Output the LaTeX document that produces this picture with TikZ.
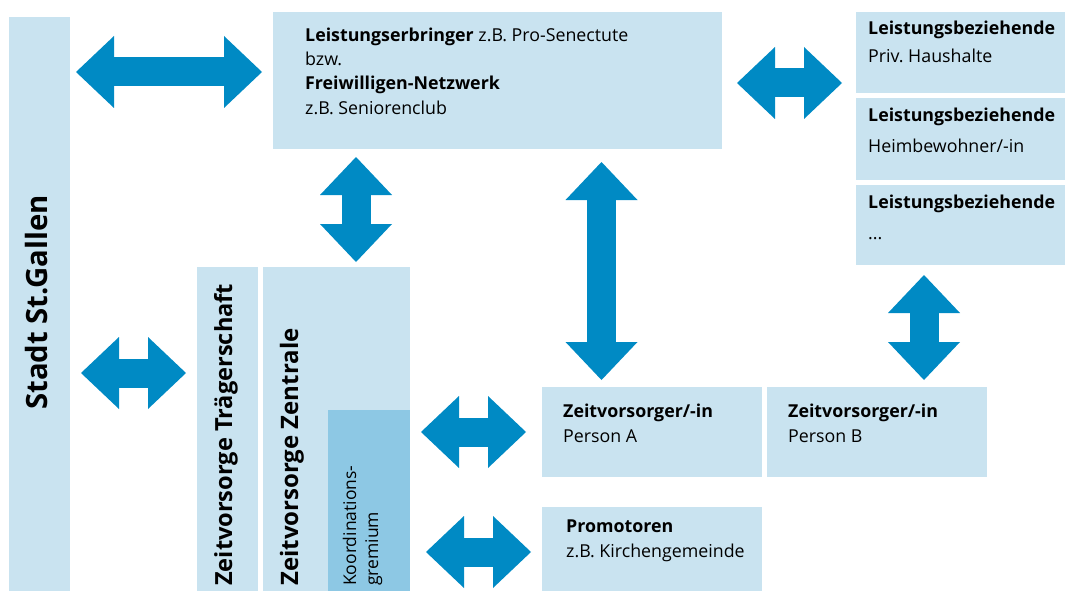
\documentclass[tikz,border=0pt]{standalone}
\usepackage{fontspec}
\setmainfont{Open Sans}
\frenchspacing
\usetikzlibrary{arrows.meta}
\definecolor{lightbox}{RGB}{201,227,240}
\definecolor{darkbox}{RGB}{141,200,228}
\definecolor{arrowblue}{RGB}{0,138,196}
\tikzset{
  box/.style={fill=lightbox, draw=none, inner sep=0pt, anchor=north west},
  dbox/.style={fill=darkbox, draw=none, inner sep=0pt, anchor=north west},
  txt/.style={inner sep=0pt, anchor=base west, font=\fontsize{17.8}{21}\selectfont},
  rtxt/.style={inner sep=0pt, anchor=base west, rotate=90},
  fat/.style={draw=arrowblue, line width=29pt,
    {Triangle[length=38pt,width=72pt,line width=0pt]}-{Triangle[length=38pt,width=72pt,line width=0pt]}}
}
\begin{document}
\begin{tikzpicture}[x=1pt,y=-1pt]
\useasboundingbox (0,0) rectangle (1065,591);
% boxes
\node[box, minimum width=61pt, minimum height=600pt] (stadt) at (9,17) {};
\node[box, minimum width=449pt, minimum height=137pt] (lerb) at (273,12) {};
\node[box, minimum width=230pt, minimum height=81pt] (lb1) at (856,12) {};
\node[box, minimum width=230pt, minimum height=82pt] (lb2) at (856,98) {};
\node[box, minimum width=230pt, minimum height=80pt] (lb3) at (856,185) {};
\node[box, minimum width=61pt, minimum height=340pt] (traeger) at (197,267) {};
\node[box, minimum width=147pt, minimum height=340pt] (zentrale) at (263,267) {};
\node[dbox, minimum width=82pt, minimum height=200pt] (koord) at (328,410) {};
\node[box, minimum width=220pt, minimum height=90pt] (pa) at (542,387) {};
\node[box, minimum width=220pt, minimum height=90pt] (pb) at (767,387) {};
\node[box, minimum width=220pt, minimum height=100pt] (prom) at (542,507) {};
% texts
\node[txt] (t1) at (305,42) {\textbf{Leistungserbringer} z.B. Pro-Senectute};
\node[txt] (t2) at (305,66) {bzw.};
\node[txt] (t3) at (305,90) {\textbf{Freiwilligen-Netzwerk}};
\node[txt] (t4) at (305,115) {z.B. Seniorenclub};
\node[txt] (l1a) at (868,35) {\textbf{Leistungsbeziehende}};
\node[txt] (l1b) at (868,63) {Priv. Haushalte};
\node[txt] (l2a) at (868,122) {\textbf{Leistungsbeziehende}};
\node[txt] (l2b) at (868,152) {Heimbewohner/-in};
\node[txt] (l3a) at (868,208) {\textbf{Leistungsbeziehende}};
\node[txt] (l3b) at (868,239) {...};
\node[txt] (pa1) at (563,417) {\textbf{Zeitvorsorger/-in}};
\node[txt] (pa2) at (563,442) {Person A};
\node[txt] (pb1) at (788,417) {\textbf{Zeitvorsorger/-in}};
\node[txt] (pb2) at (788,442) {Person B};
\node[txt] (pr1) at (566,532) {\textbf{Promotoren}};
\node[txt] (pr2) at (566,557) {z.B. Kirchengemeinde};
\node[rtxt, font=\fontsize{29.3}{33}\selectfont\bfseries] (st) at (47,410) {Stadt St.Gallen};
\node[rtxt, font=\fontsize{23.6}{28}\selectfont\bfseries] (tr) at (232,586) {Zeitvorsorge Trägerschaft};
\node[rtxt, font=\fontsize{24}{28}\selectfont\bfseries] (ze) at (298,586) {Zeitvorsorge Zentrale};
\node[rtxt, font=\fontsize{17.5}{21}\selectfont] (ko1) at (356,586) {Koordinations-};
\node[rtxt, font=\fontsize{17.5}{21}\selectfont] (ko2) at (378,586) {gremium};
% arrow end points
\coordinate (a1s) at (76,72);   \coordinate (a1e) at (262,72);
\coordinate (a2s) at (737,83);  \coordinate (a2e) at (842,83);
\coordinate (a3s) at (356,157); \coordinate (a3e) at (356,262);
\coordinate (a4s) at (601.5,162); \coordinate (a4e) at (601.5,380);
\coordinate (a5s) at (924,275); \coordinate (a5e) at (924,380);
\coordinate (a6s) at (81,373);  \coordinate (a6e) at (186,373);
\coordinate (a7s) at (421,432); \coordinate (a7e) at (526,432);
\coordinate (a8s) at (426,552); \coordinate (a8e) at (531,552);
\draw[fat] (a1s) -- (a1e);
\draw[fat] (a2s) -- (a2e);
\draw[fat] (a3s) -- (a3e);
\draw[fat] (a4s) -- (a4e);
\draw[fat] (a5s) -- (a5e);
\draw[fat] (a6s) -- (a6e);
\draw[fat] (a7s) -- (a7e);
\draw[fat] (a8s) -- (a8e);
\end{tikzpicture}
\end{document}
